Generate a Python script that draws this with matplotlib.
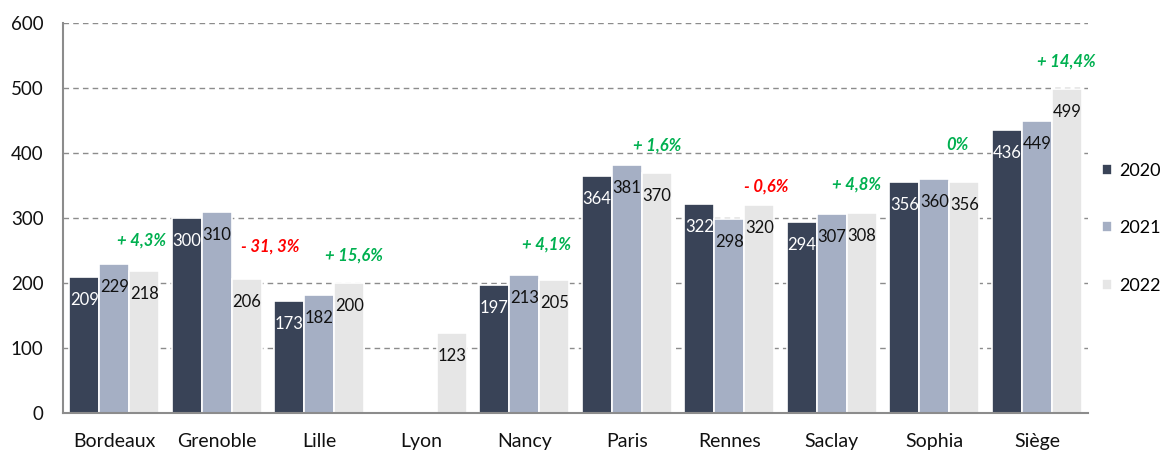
"""Effectifs par centre 2020-2022, grouped bars with year-on-year change."""

import matplotlib
import numpy as np

matplotlib.use("Agg")
import matplotlib.pyplot as plt  # noqa: E402

plt.rcParams["font.family"] = ["Lato", "DejaVu Sans"]

centres = ["Bordeaux", "Grenoble", "Lille", "Lyon", "Nancy",
           "Paris", "Rennes", "Saclay", "Sophia", "Siège"]
years = ["2020", "2021", "2022"]
v2020 = [209, 300, 173, np.nan, 197, 364, 322, 294, 356, 436]
v2021 = [229, 310, 182, np.nan, 213, 381, 298, 307, 360, 449]
v2022 = [218, 206, 200, 123, 205, 370, 320, 308, 356, 499]
changes = ["+ 4,3%", "- 31, 3%", "+ 15,6%", "", "+ 4,1%",
           "+ 1,6%", "- 0,6%", "+ 4,8%", "0%", "+ 14,4%"]

# where the change labels sit (x offset from group centre, height in data units)
pct_dx = [0.27, 0.52, 0.34, 0, 0.22, 0.30, 0.36, 0.24, 0.22, 0.29]
pct_y = [265, 257, 243, 0, 260, 412, 349, 351, 412, 541]

colors = ["#394357", "#A5AFC4", "#E6E6E6"]
text_colors = ["white", "#111111", "#111111"]
GREEN = "#00B050"
RED = "#FF0000"


def main() -> None:
    fig = plt.figure(figsize=(11.65, 4.51), dpi=100)
    ax = fig.add_axes([0.054, 0.084, 0.880, 0.865])

    x = np.arange(len(centres))
    step = 0.293
    for i, (vals, col, tcol, year) in enumerate(
            zip((v2020, v2021, v2022), colors, text_colors, years)):
        vals = np.asarray(vals, dtype=float)
        keep = ~np.isnan(vals)
        pos = (x + (i - 1) * step)[keep]
        ax.bar(pos, vals[keep], width=step, color=col, edgecolor="white",
               linewidth=1.2, label=year, zorder=3)
        for xp, v in zip(pos, vals[keep]):
            ax.annotate(f"{int(v)}", (xp, v), xytext=(0, -23),
                        textcoords="offset pixels", ha="center", va="center",
                        fontsize=12, color=tcol, zorder=4)

    for xc, txt, dx, y in zip(x, changes, pct_dx, pct_y):
        if not txt:
            continue
        col = RED if txt.startswith("-") else GREEN
        ax.text(xc + dx, y, txt, ha="center", va="center", fontsize=12,
                fontweight="bold", fontstyle="italic", color=col, zorder=5)

    ax.set_xlim(-0.5, 9.5)
    ax.set_ylim(0, 600)
    ax.set_yticks(range(0, 601, 100))
    ax.set_xticks(x, centres)
    ax.tick_params(axis="both", length=0, colors="#111111")
    ax.tick_params(axis="x", pad=14, labelsize=14)
    ax.tick_params(axis="y", pad=14, labelsize=13.5)
    ax.yaxis.grid(True, linestyle=(0, (4, 3)), color="#8C8C8C",
                  linewidth=1.0, zorder=0)
    for side in ("top", "right"):
        ax.spines[side].set_visible(False)
    for side in ("left", "bottom"):
        ax.spines[side].set_color("#8C8C8C")
        ax.spines[side].set_linewidth(1.5)
        ax.spines[side].set_zorder(6)

    fig.legend(loc="center left", bbox_to_anchor=(1102 / 1165, 0.494),
               bbox_transform=fig.transFigure, frameon=False,
               fontsize=13, handlelength=0.55, handleheight=0.55,
               handletextpad=0.4, labelspacing=2.3, borderpad=0,
               borderaxespad=0)

    fig.savefig("out.png", dpi=100)
    plt.close(fig)


if __name__ == "__main__":
    main()
